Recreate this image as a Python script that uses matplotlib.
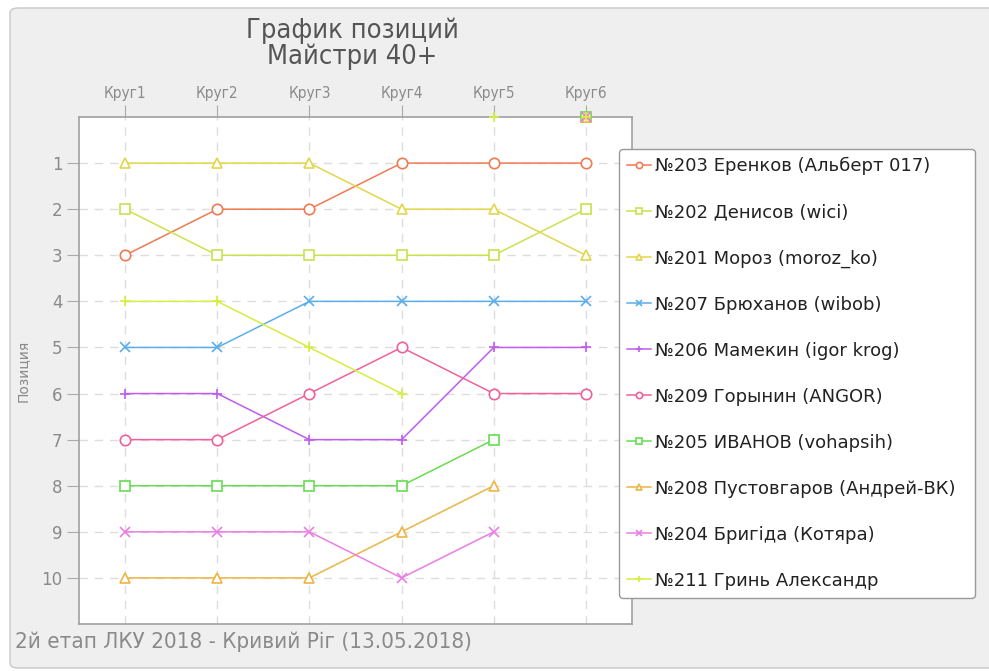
import numpy as np
import matplotlib
matplotlib.use("Agg")
import matplotlib.pyplot as plt
from matplotlib.patches import FancyBboxPatch

rounds = ["Круг1", "Круг2", "Круг3", "Круг4", "Круг5", "Круг6"]
positions = [1, 2, 3, 4, 5, 6, 7, 8, 9, 10]

names = [
    "№203 Еренков (Альберт 017)",
    "№202 Денисов (wici)",
    "№201 Мороз (moroz_ko)",
    "№207 Брюханов (wibob)",
    "№206 Мамекин (igor krog)",
    "№209 Горынин (ANGOR)",
    "№205 ИВАНОВ (vohapsih)",
    "№208 Пустовгаров (Андрей-ВК)",
    "№204 Бригіда (Котяра)",
    "№211 Гринь Александр",
]
# 0 = no position in that round (drawn on the top edge, without line)
p203 = [3, 2, 2, 1, 1, 1]
p202 = [2, 3, 3, 3, 3, 2]
p201 = [1, 1, 1, 2, 2, 3]
p207 = [5, 5, 4, 4, 4, 4]
p206 = [6, 6, 7, 7, 5, 5]
p209 = [7, 7, 6, 5, 6, 6]
p205 = [8, 8, 8, 8, 7, 0]
p208 = [10, 10, 10, 9, 8, 0]
p204 = [9, 9, 9, 10, 9, 0]
p211 = [4, 4, 5, 6, 0, 0]
series = [p203, p202, p201, p207, p206, p209, p205, p208, p204, p211]

colors = ["#f07a52", "#c9e24e", "#e4d64a", "#5aaeea", "#bf5cf0",
          "#f0609a", "#66dc52", "#eeb444", "#ea7ee2", "#d6ee3e"]
markers = ["o", "s", "^", "x", "+", "o", "s", "^", "x", "+"]

W, H = 989, 671
fig = plt.figure(figsize=(W / 100, H / 100), dpi=100)
fig.patch.set_facecolor("white")

# panel background
panel = FancyBboxPatch((10 / W, 3 / H), (W + 10) / W, (H - 11) / H,
                       boxstyle="round,pad=0,rounding_size=0.008",
                       transform=fig.transFigure, facecolor="#efefef",
                       edgecolor="#c8c8c8", linewidth=1.0, zorder=-10)
fig.patches.append(panel)

cond = dict(family="DejaVu Sans", stretch="condensed")

ax_l, ax_r, ax_t, ax_b = 79, 632, 117, 624
ax = fig.add_axes([ax_l / W, 1 - ax_b / H, (ax_r - ax_l) / W, (ax_b - ax_t) / H])
ax.set_zorder(1)
ax.set_facecolor("white")

x = np.arange(1, len(rounds) + 1)
for vals, name, c, m in zip(series, names, colors, markers):
    v = np.array(vals, dtype=float)
    main = np.where(v > 0, v, np.nan)
    ax.plot(x, main, color=c, lw=1.1, marker=m, ms=7.5, mfc="white",
            mec=c, mew=1.2, label=name, zorder=3)
    drop = np.where(v == 0, v, np.nan)
    if np.any(v == 0):
        ax.plot(x, drop, color=c, lw=0, marker=m, ms=7.5, mfc="white",
                mec=c, mew=1.2, clip_on=False, zorder=4)

ax.set_xlim(0.5, 6.5)
ax.set_ylim(11, 0)
ax.set_yticks(positions)
ax.set_yticklabels([str(p) for p in positions], color="#8a8a8a", fontsize=12)
ax.set_xticks(x)
ax.set_xticklabels(rounds, fontsize=11, color="#8a8a8a", **cond)
ax.xaxis.tick_top()
ax.tick_params(axis="x", length=9, color="#aaaaaa", pad=2.5)
ax.tick_params(axis="y", length=9, color="#aaaaaa", pad=3)
ax.grid(True, color="#dddddd", linestyle=(0, (6, 5)), lw=1.0)
ax.set_axisbelow(True)
for s in ax.spines.values():
    s.set_color("#a0a0a0")
    s.set_linewidth(1.2)
ax.set_ylabel("Позиция", color="#8a8a8a", fontsize=10, labelpad=8)

fig.text(352 / W, 1 - 44 / H, "График позиций\nМайстри 40+", ha="center",
         va="center", fontsize=19.5, color="#555555", linespacing=1.0, **cond)
fig.text(15 / W, 1 - 642 / H, "2й етап ЛКУ 2018 - Кривий Ріг (13.05.2018)",
         ha="left", va="center", fontsize=16, color="#8a8a8a", **cond)

leg = fig.legend(loc="upper left",
                 bbox_to_anchor=(619 / W, 1 - 600 / H, (975 - 619) / W, (600 - 149) / H),
                 mode="expand",
                 fontsize=13, frameon=True, fancybox=True, handlelength=1.3,
                 handletextpad=0.25, labelspacing=1.55, borderpad=0.45,
                 borderaxespad=0, markerscale=0.6)
leg.set_zorder(5)
leg.get_frame().set_edgecolor("#999999")
leg.get_frame().set_linewidth(1.0)
leg.get_frame().set_facecolor("white")
leg.get_frame().set_alpha(1)
for t in leg.get_texts():
    t.set_color("#222222")

fig.savefig("out.png", dpi=100, facecolor=fig.get_facecolor())
